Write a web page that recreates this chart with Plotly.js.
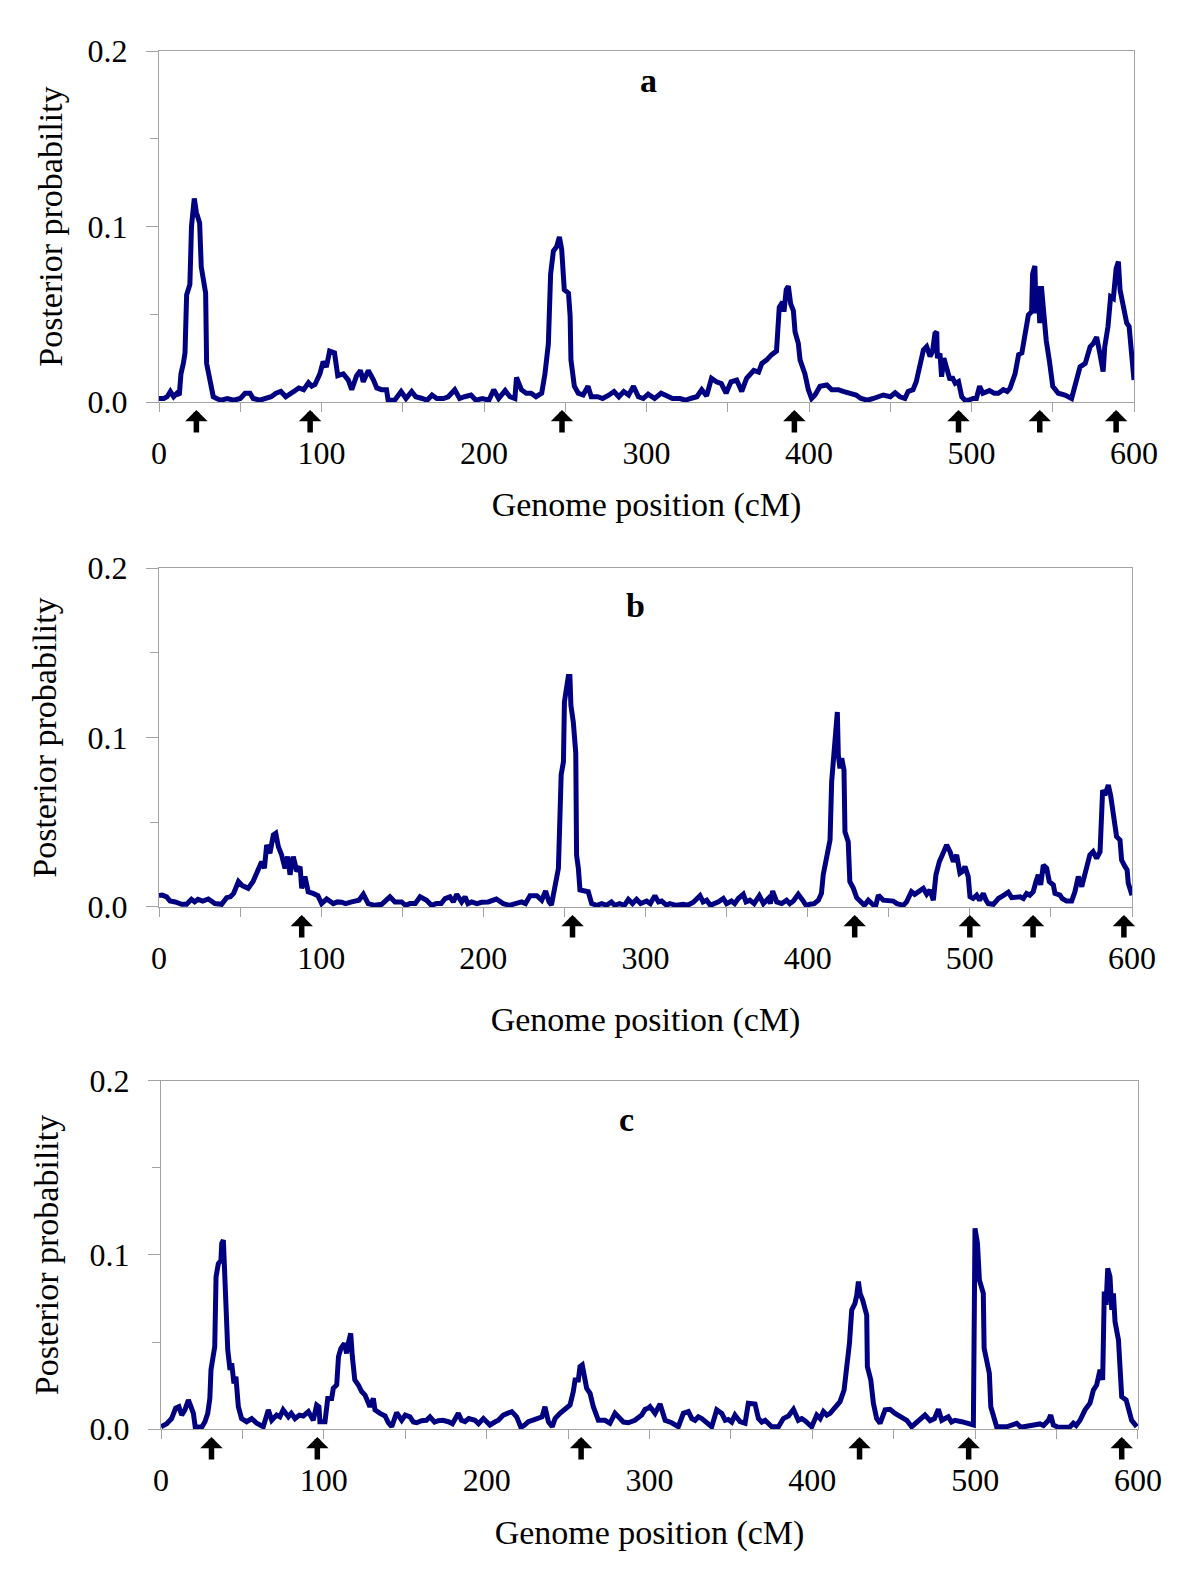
<!DOCTYPE html>
<html>
<head>
<meta charset="utf-8">
<script src="https://cdn.plot.ly/plotly-3.0.1.min.js"></script>
<style>html,body{margin:0;padding:0;background:#fff;}#chart{width:1200px;height:1582px;}</style>
</head>
<body>
<div id="chart"></div>
<script>
// ---- Data: [genome position (cM), posterior probability] ----
const curveA = [
[0,0.002],[3,0.002],[5,0.003],[7,0.006],[9,0.003],[11,0.005],[12.5,0.004],[13.5,0.016],[15,0.022],[16,0.028],
[17,0.061],[19,0.067],[20,0.100],[21.7,0.116],[23,0.108],[25,0.102],[26,0.077],[28.7,0.062],[29.3,0.022],[31.4,0.011],
[33.4,0.003],[35.5,0.002],[38,0.001],[42,0.002],[46,0.001],[50,0.002],[53,0.005],[56,0.005],[58,0.002],[62,0.001],
[66,0.002],[69,0.003],[72,0.005],[75,0.006],[78,0.003],[80,0.004],[83,0.006],[86,0.008],[89,0.007],[92,0.011],
[94,0.009],[96,0.010],[99,0.016],[101,0.023],[103,0.020],[105,0.029],[108,0.028],[110,0.015],[113.4,0.016],[116.5,0.0125],
[118.6,0.007],[121.6,0.015],[124,0.018],[125.7,0.0115],[128.8,0.018],[132,0.0125],[134,0.008],[137,0.007],[140,0.007],[141,0.001],
[145,0.001],[149,0.006],[152,0.002],[155.5,0.006],[158,0.003],[162,0.002],[165,0.001],[168,0.004],[171,0.002],[175,0.002],
[178,0.003],[182,0.007],[185,0.002],[188,0.003],[192,0.004],[195,0.001],[199,0.002],[203,0.001],[206,0.007],[209,0.002],
[213,0.0065],[216,0.003],[219,0.002],[220,0.014],[223,0.007],[226,0.005],[229,0.005],[232,0.003],[235.5,0.005],[237.5,0.016],
[239.6,0.033],[241,0.073],[242.7,0.086],[244.7,0.0885],[246.4,0.094],[247.8,0.087],[249.4,0.064],[252,0.062],[253,0.049],[253.5,0.024],
[255.6,0.009],[258,0.005],[261,0.004],[264,0.009],[266,0.003],[270,0.003],[273,0.002],[277,0.004],[280,0.006],[283,0.003],
[286,0.006],[289,0.004],[292,0.009],[295,0.003],[298,0.002],[301,0.0045],[305,0.002],[309,0.005],[312,0.004],[316,0.002],
[320.6,0.002],[324,0.001],[327,0.002],[331,0.003],[334,0.007],[337,0.0035],[340,0.0135],[343,0.0115],[346,0.0105],[349,0.005],
[352,0.0115],[355.5,0.0125],[358.6,0.006],[361.6,0.0135],[366,0.018],[369,0.017],[371,0.022],[374,0.024],[377,0.027],[380,0.029],
[381.7,0.054],[383.8,0.057],[384.6,0.0515],[386,0.064],[387.3,0.066],[388.7,0.056],[390.4,0.052],[391.4,0.040],[393.4,0.0335],[394.5,0.024],
[397.5,0.016],[399.6,0.007],[401.6,0.002],[403.7,0.004],[406.8,0.009],[411,0.0097],[414,0.007],[418,0.007],[421,0.006],[425,0.005],
[429,0.004],[432,0.002],[436,0.001],[439.6,0.002],[443,0.003],[445.7,0.004],[450,0.003],[453,0.0053],[456,0.003],[459,0.002],
[461,0.006],[464,0.007],[466,0.0115],[468,0.020],[470.4,0.0296],[472.4,0.0315],[474.5,0.026],[476,0.0287],[477.5,0.039],[478.6,0.040],
[479,0.025],[480.6,0.0277],[481.6,0.0144],[483,0.025],[484.7,0.019],[486.8,0.0125],[488,0.0144],[490,0.0106],[492,0.0116],[494,0.003],
[496,0.001],[498,0.001],[501,0.002],[503,0.002],[505,0.009],[507,0.005],[511,0.0065],[514,0.005],[516.5,0.005],[519.6,0.007],
[522,0.006],[523.7,0.0078],[526.8,0.016],[529,0.027],[531,0.028],[533,0.038],[535,0.0496],[537,0.0515],[537.6,0.073],[539,0.0775],
[539.7,0.0505],[541,0.066],[542,0.045],[543,0.066],[544.6,0.047],[546,0.035],[548,0.023],[550,0.009],[553.4,0.005],[557.5,0.004],
[561.6,0.002],[564.7,0.0116],[566.8,0.020],[570,0.022],[573,0.0315],[575,0.0334],[577,0.037],[579,0.0277],[581,0.0173],[582,0.0315],
[584,0.043],[585.6,0.060],[587.3,0.059],[589,0.076],[590.4,0.080],[591.4,0.064],[593.4,0.054],[595.5,0.045],[597,0.043],[598.6,0.0296],
[600,0.0125]
];
const curveB = [
[0,0.0067],[2,0.007],[4.7,0.006],[6.8,0.0035],[10,0.003],[14,0.0016],[17,0.0016],[20,0.0045],[22,0.003],[24,0.0045],
[27,0.0035],[30.4,0.0047],[34.5,0.002],[38.6,0.0016],[41.7,0.0055],[44,0.006],[46,0.008],[49,0.015],[51.4,0.0126],[55,0.011],
[58,0.015],[61,0.021],[63.3,0.0267],[65,0.0228],[66.4,0.0366],[68.4,0.0317],[70.5,0.0425],[72,0.0435],[73.6,0.0356],[75.6,0.0307],
[77.7,0.0228],[79.3,0.0297],[80.8,0.019],[82.8,0.0297],[85,0.021],[87,0.0238],[88,0.011],[90,0.018],[92,0.009],[95,0.008],
[98,0.0067],[100.3,0.002],[103.4,0.0047],[107.5,0.002],[110,0.003],[112.6,0.0028],[115,0.002],[118.8,0.003],[123.3,0.004],[126,0.0075],
[129,0.002],[133,0.001],[137.3,0.0016],[142.4,0.006],[145.5,0.003],[149.6,0.003],[152,0.001],[154.8,0.002],[158,0.002],[161,0.006],
[165,0.004],[168,0.001],[171,0.002],[174,0.002],[176.4,0.005],[179.4,0.006],[181.5,0.003],[183.6,0.0075],[186.6,0.003],[188.7,0.006],
[190.5,0.002],[192.8,0.003],[196,0.002],[199,0.0028],[203,0.003],[208,0.0047],[212.3,0.002],[216,0.001],[219.5,0.0016],[223.6,0.003],
[226,0.002],[228.8,0.0067],[233,0.0067],[236,0.004],[238.4,0.0094],[240.5,0.003],[242,0.0012],[244.2,0.013],[246.3,0.0228],[248,0.078],
[249.4,0.0857],[250,0.121],[251.4,0.129],[252.4,0.136],[253.4,0.136],[254,0.119],[255.5,0.109],[256,0.0966],[257,0.0907],[257.5,0.0307],
[258.6,0.0228],[259.6,0.010],[262.7,0.009],[264.7,0.009],[266.8,0.002],[270,0.001],[273,0.002],[276,0.001],[279,0.003],[281,0.001],
[284,0.002],[287,0.001],[289.4,0.0045],[292,0.002],[294.5,0.0045],[297,0.002],[300.7,0.0035],[303,0.002],[305.8,0.0067],[308,0.003],
[310,0.0035],[313,0.001],[315,0.002],[319,0.001],[323.3,0.0016],[326,0.001],[329.5,0.0028],[333.6,0.0067],[335.5,0.003],[337.7,0.004],
[340,0.001],[342.8,0.002],[345,0.003],[348,0.005],[350,0.002],[353,0.0035],[355,0.002],[357.2,0.005],[360.3,0.0075],[362,0.003],
[364.4,0.004],[367,0.002],[370.2,0.0067],[372.7,0.002],[375.7,0.005],[377,0.002],[378.4,0.0094],[380.9,0.003],[384,0.002],[387,0.004],
[389,0.002],[391.2,0.0035],[394.2,0.0075],[397.3,0.0035],[399,0.001],[401.4,0.0016],[404,0.002],[406.6,0.004],[408.5,0.008],[409.6,0.019],
[411.7,0.0297],[413.8,0.0395],[414.8,0.074],[416.2,0.0897],[416.8,0.0975],[417.5,0.1034],[418.3,0.115],[418.9,0.0897],[419.9,0.0818],[421,0.0877],
[422.4,0.0808],[423,0.0444],[425,0.0385],[426,0.015],[428.2,0.011],[430.2,0.0055],[433.3,0.002],[435,0.001],[437.4,0.004],[440.5,0.0012],
[442,0.001],[443.6,0.007],[446.6,0.004],[449,0.004],[452.8,0.0035],[455,0.002],[457,0.0016],[459,0.001],[461,0.003],[464,0.009],
[466,0.0075],[468.2,0.0087],[471.3,0.011],[473.4,0.0075],[475.4,0.010],[477.5,0.004],[479.1,0.019],[481.2,0.0267],[483.7,0.0317],[485.7,0.0366],
[487.8,0.0326],[489.8,0.0267],[491.9,0.0307],[493.9,0.0199],[495.5,0.021],[497,0.0238],[499,0.018],[500.1,0.006],[502,0.005],[504.2,0.007],
[506,0.004],[508.3,0.008],[510,0.004],[511.4,0.002],[514.5,0.0016],[517.6,0.005],[520.6,0.0067],[523.7,0.0087],[525.8,0.0055],[528,0.006],
[531,0.006],[533,0.005],[535,0.008],[537,0.007],[539.1,0.009],[540.8,0.015],[542.2,0.019],[543.7,0.013],[545.3,0.0248],[547.4,0.0228],
[549,0.015],[551.5,0.013],[552.5,0.008],[555.6,0.007],[557,0.005],[559.7,0.0035],[562.8,0.0035],[564.8,0.009],[566.9,0.018],[569,0.012],
[572,0.0248],[574,0.0307],[576,0.0326],[578.2,0.0287],[580.3,0.0326],[581.3,0.0503],[581.9,0.069],[583.3,0.066],[585.4,0.072],[586.8,0.066],
[588.5,0.0562],[590.5,0.0415],[592.6,0.0395],[593.6,0.0277],[595.7,0.0238],[597,0.0218],[597.7,0.014],[598.7,0.010],[600,0.007]
];
const curveC = [
[0,0.0013],[3.5,0.003],[6.5,0.006],[9,0.012],[11,0.0128],[12.7,0.008],[14.7,0.011],[16.8,0.0167],[18.4,0.0128],[19.9,0.009],
[21,0.0013],[25,0.001],[27,0.0042],[28.7,0.009],[30,0.0176],[30.7,0.034],[32,0.0416],[33,0.0473],[33.8,0.0875],[35.2,0.095],
[36.8,0.097],[37.3,0.1067],[38.3,0.1086],[39.3,0.0856],[40.3,0.0703],[41,0.0454],[42.4,0.034],[43.4,0.0377],[44.8,0.0262],[46,0.030],
[47.5,0.0128],[49.5,0.006],[52.6,0.0042],[55.7,0.006],[58.8,0.0033],[62.8,0.0013],[65.9,0.011],[68,0.005],[71,0.008],[73,0.007],
[75,0.011],[78.2,0.007],[80,0.009],[82.3,0.006],[85,0.008],[87.4,0.0075],[90.5,0.010],[93.5,0.005],[95.6,0.0138],[97,0.0128],
[97.6,0.0042],[100.7,0.0042],[102.4,0.0176],[104.8,0.0176],[105.8,0.0234],[107.9,0.0253],[109,0.0416],[110.5,0.0464],[112.6,0.0492],[114,0.0435],
[115,0.0492],[116.5,0.055],[117.5,0.0416],[119,0.0282],[121.2,0.0253],[123.2,0.0215],[125.3,0.0195],[128.3,0.0128],[130.4,0.0176],[131.4,0.011],
[134.5,0.009],[137.6,0.0075],[139.6,0.0036],[141.7,0.0013],[144.7,0.0094],[147.8,0.005],[150,0.008],[152.9,0.007],[155,0.004],[157,0.0036],
[160,0.0048],[163,0.005],[165.2,0.007],[168,0.004],[170.3,0.0048],[173,0.005],[176.5,0.0042],[179,0.003],[182.6,0.009],[184.5,0.005],
[186.7,0.0042],[189,0.006],[192.8,0.005],[195,0.003],[198,0.006],[202,0.0023],[205,0.004],[207.2,0.005],[210.2,0.008],[213,0.009],
[215.4,0.010],[218.4,0.007],[221,0.001],[223,0.002],[225.6,0.0042],[228,0.005],[231.7,0.006],[234,0.007],[235.8,0.0128],[237.9,0.0042],
[240.3,0.0013],[242,0.006],[245,0.009],[248,0.011],[251.2,0.0138],[253.2,0.0215],[254.3,0.0282],[256.3,0.0282],[257.3,0.0358],[258.7,0.0368],
[260,0.031],[261.4,0.0234],[263.5,0.0205],[265.5,0.0128],[268.6,0.005],[272.7,0.005],[275.7,0.0033],[278.8,0.009],[281.9,0.006],[284,0.004],
[287,0.0036],[291,0.005],[295.2,0.008],[297.3,0.0113],[299.3,0.012],[300.3,0.0128],[303.4,0.009],[306.5,0.0144],[309.6,0.005],[313.6,0.0036],
[317.7,0.0013],[320.8,0.009],[323.9,0.010],[326,0.006],[328,0.005],[330,0.007],[332.1,0.006],[335.1,0.0036],[338.2,0.0013],[341.3,0.011],
[344.4,0.009],[346.5,0.005],[348.4,0.0055],[350.5,0.004],[352.5,0.008],[355.6,0.0042],[358.7,0.0033],[360.7,0.0148],[364.8,0.0144],[366.9,0.006],
[369,0.004],[371,0.005],[373,0.003],[375.1,0.0013],[379.2,0.0013],[382.2,0.006],[385.3,0.0075],[388.4,0.0113],[391.4,0.005],[393.5,0.006],
[395.5,0.0048],[397.5,0.003],[399.6,0.0013],[402.7,0.008],[404.8,0.006],[406.8,0.010],[408.9,0.008],[410.9,0.009],[414,0.0119],[417,0.0157],
[419.5,0.0224],[421.1,0.0358],[422.8,0.0492],[424.2,0.0684],[426.2,0.0722],[427.3,0.077],[428.3,0.0847],[429.3,0.078],[430.9,0.0741],[433.4,0.0655],
[433.8,0.0358],[435.9,0.0282],[437.5,0.0148],[439.5,0.006],[441.6,0.0033],[444.7,0.011],[447.7,0.0113],[450.8,0.009],[453.9,0.007],[456,0.006],
[458,0.005],[461,0.0013],[464.1,0.0042],[467,0.006],[469.2,0.008],[472.3,0.0048],[475,0.006],[477.4,0.0113],[479.5,0.005],[481.5,0.006],
[483.5,0.007],[485.5,0.004],[487.6,0.005],[491.7,0.0042],[495.8,0.0029],[498.9,0.0023],[499.9,0.1153],[501.4,0.1067],[502.6,0.0856],[505,0.078],
[505.5,0.0464],[507.1,0.0377],[508.7,0.032],[509.6,0.0128],[511.2,0.007],[513.2,0.0013],[519.4,0.0013],[522,0.002],[525.5,0.0033],[528,0.001],
[531.7,0.0017],[535,0.002],[539.8,0.0029],[542,0.002],[545,0.005],[546.4,0.008],[548,0.0023],[551,0.001],[554.2,0.0013],[558,0.001],
[560.3,0.0033],[562,0.002],[564.4,0.005],[567.5,0.011],[570.5,0.0148],[572.6,0.0224],[574.6,0.0253],[576.7,0.034],[578.3,0.0282],[579.3,0.079],
[580.4,0.0713],[581.4,0.0923],[582.8,0.0876],[583.9,0.0684],[584.9,0.078],[585.9,0.0617],[588,0.0512],[589,0.032],[590,0.0186],[592.7,0.0167],
[594.1,0.011],[596.1,0.005],[599.2,0.0013]
];

// QTL positions marked with arrows (cM)
const arrowsA = [23, 93, 248, 391, 492, 542, 589];
const arrowsB = [88, 255, 429, 500, 539, 595];
const arrowsC = [31, 96, 258, 429, 496, 590];

// Panel labels and their positions [cM, probability]
const panelLabels = ['a', 'b', 'c'];
const labelPosX = [301, 294, 286];
const labelPosY = [0.183, 0.178, 0.178];

// Tick labels
const xTickVals = [0, 100, 200, 300, 400, 500, 600];
const yTickVals = [0, 0.1, 0.2];
const yTickText = ['0.0', '0.1', '0.2'];
const xTitle = 'Genome position (cM)';
const yTitle = 'Posterior probability';

// ---- Build ----
const FONT = '"Liberation Serif", "Times New Roman", Times, serif';
const AXC = '#a3a3a3';
const curves = [curveA, curveB, curveC];
const arrowSets = [arrowsA, arrowsB, arrowsC];

const xDomains = [[0.1325, 0.945], [0.1325, 0.94333], [0.13417, 0.94833]];
const yDomains = [[0.74589, 0.96776], [0.42668, 0.64096], [0.09671, 0.31669]];
const xStandoffs = [21, 31, 22];
const yStandoffs = [14, 20, 20];

const traces = curves.map((c, i) => ({
  type: 'scatter', mode: 'lines',
  x: c.map(p => p[0]), y: c.map(p => p[1]),
  xaxis: i === 0 ? 'x' : 'x' + (i + 1),
  yaxis: i === 0 ? 'y' : 'y' + (i + 1),
  line: {color: '#000080', width: 5, shape: 'linear'},
  hoverinfo: 'skip', showlegend: false
}));

const layout = {
  width: 1200, height: 1582,
  margin: {l: 0, r: 0, t: 0, b: 0},
  paper_bgcolor: '#ffffff', plot_bgcolor: '#ffffff',
  font: {family: FONT, color: '#000'},
  showlegend: false,
  annotations: []
};

for (let i = 0; i < 3; i++) {
  const xs = i === 0 ? '' : String(i + 1);
  const ysfx = i === 0 ? '' : String(i + 1);
  layout['xaxis' + xs] = {
    domain: xDomains[i], anchor: 'y' + ysfx, range: [0, 600],
    tickmode: 'array', tickvals: xTickVals,
    ticks: 'outside', ticklen: 9, tickwidth: 1, tickcolor: AXC,
    minor: {dtick: 50, tick0: 0, ticks: 'outside', ticklen: 9, tickwidth: 1, tickcolor: AXC, showgrid: false},
    showline: true, linecolor: AXC, linewidth: 1, mirror: true,
    showgrid: false, zeroline: false, automargin: false,
    tickfont: {family: FONT, size: 32, color: '#000'},
    ticklabelstandoff: 14,
    title: {text: xTitle, font: {family: FONT, size: 34, color: '#000'}, standoff: xStandoffs[i]},
    fixedrange: true
  };
  layout['yaxis' + ysfx] = {
    domain: yDomains[i], anchor: 'x' + xs, range: [0, 0.2],
    tickmode: 'array', tickvals: yTickVals, ticktext: yTickText,
    ticks: 'outside', ticklen: 12, tickwidth: 1, tickcolor: AXC,
    minor: {dtick: 0.05, tick0: 0, ticks: 'outside', ticklen: 8, tickwidth: 1, tickcolor: AXC, showgrid: false},
    showline: true, linecolor: AXC, linewidth: 1, mirror: true,
    showgrid: false, zeroline: false, automargin: false,
    tickfont: {family: FONT, size: 32, color: '#000'},
    ticklabelstandoff: 12,
    title: {text: yTitle, font: {family: FONT, size: 34, color: '#000'}, standoff: yStandoffs[i]},
    fixedrange: true
  };
  // inner half of the crossing major ticks
  layout['yaxis' + (i + 4)] = {
    overlaying: 'y' + ysfx, anchor: 'x' + xs, side: 'left', range: [0, 0.2],
    tickmode: 'array', tickvals: yTickVals, ticks: 'inside', ticklen: 9, tickwidth: 1, tickcolor: AXC,
    showticklabels: false, showline: false, showgrid: false, zeroline: false, automargin: false, fixedrange: true
  };
  // panel letter
  layout.annotations.push({
    xref: 'x' + xs, yref: 'y' + ysfx, x: labelPosX[i], y: labelPosY[i],
    text: '<b>' + panelLabels[i] + '</b>', showarrow: false,
    font: {family: FONT, size: 34, color: '#000'}
  });
  // arrows
  arrowSets[i].forEach(pos => {
    layout.annotations.push({
      xref: 'x' + xs, yref: 'y' + ysfx, x: pos, y: 0, yshift: -8,
      ax: 0, ay: 24, axref: 'pixel', ayref: 'pixel',
      text: '', showarrow: true, arrowhead: 1, arrowsize: 0.68, arrowwidth: 5.5, arrowcolor: '#000'
    });
  });
}

Plotly.newPlot('chart', traces, layout, {displayModeBar: false, staticPlot: true});
</script>
</body>
</html>
